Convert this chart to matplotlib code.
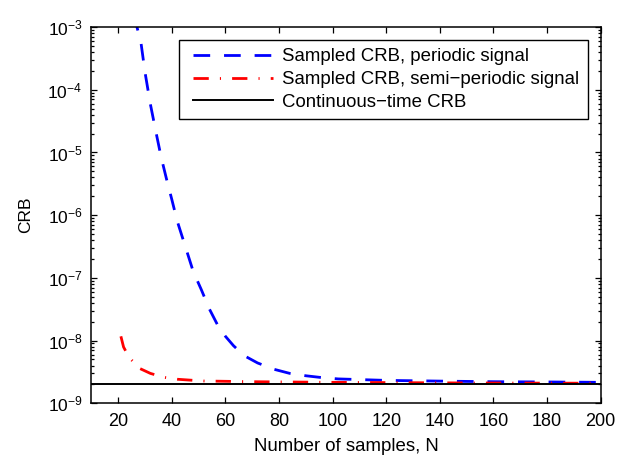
import matplotlib
matplotlib.use("Agg")
import matplotlib.pyplot as plt
import matplotlib.ticker as mticker
from matplotlib.legend_handler import HandlerLine2D
import numpy as np

# ---- data ----
n_periodic = [26, 27, 28.5, 30, 32, 34, 36, 38, 40, 42, 45, 48, 51, 54, 57, 60, 63, 67, 72, 78, 84,
              90, 96, 102, 120, 140, 160, 180, 200]
crb_periodic = [1.6e-3, 1.0e-3, 5.6e-4, 1.9e-4, 5.9e-5, 2.2e-5, 8.5e-6, 3.8e-6, 1.78e-6, 8.1e-7,
                3.2e-7, 1.26e-7, 6.5e-8, 3.2e-8, 1.8e-8, 1.17e-8, 8.3e-9, 5.75e-9, 4.4e-9, 3.5e-9,
                3.0e-9, 2.75e-9, 2.57e-9, 2.45e-9, 2.32e-9, 2.26e-9, 2.21e-9, 2.19e-9, 2.16e-9]
n_semi = [21, 22, 23.5, 25, 28, 32, 37, 42, 47, 52, 70, 100, 150, 200]
crb_semi = [1.17e-8, 7.9e-9, 6.0e-9, 4.9e-9, 3.6e-9, 3.0e-9, 2.6e-9, 2.42e-9, 2.34e-9, 2.27e-9,
            2.21e-9, 2.16e-9, 2.11e-9, 2.09e-9]
crb_continuous = 2.03e-9
x_ticks = [20, 40, 60, 80, 100, 120, 140, 160, 180, 200]
labels = ["Sampled CRB, periodic signal",
          "Sampled CRB, semi\u2212periodic signal",
          "Continuous\u2212time CRB"]

plt.rcParams['font.family'] = ['Liberation Sans', 'DejaVu Sans']
plt.rcParams['mathtext.default'] = 'regular'
FS = 13
LFS = 13.4

fig = plt.figure(figsize=(6.26, 4.58), dpi=100)
ax = fig.add_axes([0.146, 0.1194, 0.8136, 0.8216])

l1, = ax.plot(n_periodic, crb_periodic, color='#0000ff', lw=2.0, linestyle=(0, (6, 5)), label=labels[0])
l2, = ax.plot(n_semi, crb_semi, color='#ff0000', lw=2.0, linestyle=(0, (5.5, 4, 0.4, 4)), label=labels[1])
l3 = ax.axhline(crb_continuous, color='black', lw=1.4, label=labels[2])

ax.set_yscale('log')
ax.set_xlim(10, 200)
ax.set_ylim(1e-9, 1e-3)
ax.set_xticks(x_ticks)
ax.set_yticks([10.0**k for k in range(-9, -2)])
ax.yaxis.set_major_formatter(mticker.FuncFormatter(lambda v, p: r'$10^{%d}$' % int(round(np.log10(v)))))
ax.yaxis.set_minor_locator(mticker.LogLocator(base=10, subs=np.arange(2, 10), numticks=20))
ax.yaxis.set_minor_formatter(mticker.NullFormatter())

ax.tick_params(which='both', direction='in', top=True, right=True, width=0.9)
ax.tick_params(which='major', length=4.5)
ax.tick_params(which='minor', length=2.5)
ax.tick_params(axis='y', pad=6.5, labelsize=12.5)
ax.tick_params(axis='x', pad=7, labelsize=FS)
for s in ax.spines.values():
    s.set_linewidth(1.1)

ax.set_xlabel("Number of samples, N", fontsize=13.4, labelpad=6)
ax.set_ylabel("CRB", fontsize=12.5, labelpad=10)

hmap = {h: HandlerLine2D(xpad=0.33) for h in (l1, l2, l3)}
leg = ax.legend(loc='upper right', bbox_to_anchor=(0.975, 0.9655), borderaxespad=0,
                fontsize=LFS, frameon=True, fancybox=False, framealpha=1, handler_map=hmap,
                handlelength=4.6, handletextpad=0.52, labelspacing=0.3, borderpad=0.45)
leg.get_frame().set_edgecolor('black')
leg.get_frame().set_linewidth(1.0)

fig.savefig("out.png", dpi=100)
